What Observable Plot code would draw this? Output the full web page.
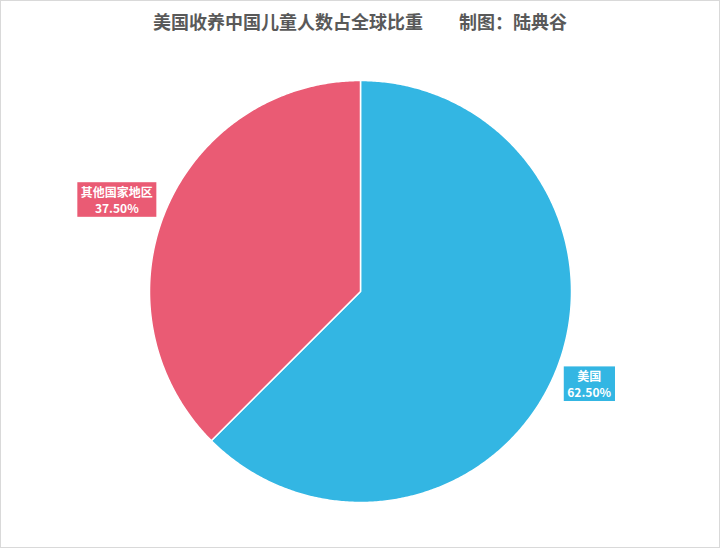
<!DOCTYPE html>
<html><head><meta charset="utf-8">
<script src="https://cdn.jsdelivr.net/npm/d3@7"></script>
<script src="https://cdn.jsdelivr.net/npm/@observablehq/plot@0.6"></script>
<style>
body{margin:0;background:#fff;}
#wrap{width:720px;height:548px;box-sizing:border-box;border:1px solid #d9d9d9;position:relative;font-family:"Noto Sans CJK SC","Noto Sans",sans-serif;overflow:hidden;}
#title{height:40px;line-height:40px;text-align:center;font-size:18px;font-weight:bold;color:#595959;white-space:pre;}
#chart svg{display:block;}
</style></head><body>
<div id="wrap"><div id="title"></div><div id="chart"></div></div>
<script>
const titleText = "美国收养中国儿童人数占全球比重";
const creditText = "制图：陆典谷";
const categories = ["美国", "其他国家地区"];
const shares = [62.5, 37.5];
const shareLabels = ["62.50%", "37.50%"];
const colors = ["#33B6E3", "#EA5B74"];

document.getElementById("title").textContent = titleText + "\u3000\u3000" + creditText;

const rows = categories.map((c, i) => ({category: c, share: shares[i], label: shareLabels[i]}));
const arcs = d3.pie().sort(null).value(d => d.share)(rows);

// slice outlines derived from the pie angles
const pts = [];
for (const a of arcs) {
  const c = a.data.category;
  pts.push({category: c, x: 0, y: 0});
  const n = Math.max(2, Math.ceil((a.endAngle - a.startAngle) / (Math.PI / 360)));
  for (let k = 0; k <= n; k++) {
    const t = a.startAngle + (a.endAngle - a.startAngle) * k / n;
    pts.push({category: c, x: Math.sin(t), y: Math.cos(t)});
  }
  pts.push({category: c, x: 0, y: 0});
}

const labelRadius = {"美国": 1.173, "其他国家地区": 1.232};
const labelShift = {"美国": [0, -2], "其他国家地区": [-3.5, 8]};
const labels = arcs.map(a => {
  const m = (a.startAngle + a.endAngle) / 2;
  const r = labelRadius[a.data.category];
  return {category: a.data.category, x: Math.sin(m) * r, y: Math.cos(m) * r, text: a.data.category + "\n" + a.data.label};
});

const R = 211, cx = 359, cy = 250;
const textMarks = labels.map(l => Plot.text([l], {
  x: "x", y: "y", text: "text", fill: "white", fontSize: 12, fontWeight: "bold",
  lineHeight: 1.3, className: "pielabel", dx: labelShift[l.category][0], dy: labelShift[l.category][1]
}));

const chart = Plot.plot({
  width: 718, height: 506,
  x: {domain: [-1, 1], range: [cx - R, cx + R], axis: null},
  y: {domain: [-1, 1], range: [cy + R, cy - R], axis: null},
  color: {domain: categories, range: colors},
  style: {fontFamily: '"Noto Sans CJK SC","Noto Sans",sans-serif', background: "white"},
  marks: [
    Plot.line(pts, {x: "x", y: "y", z: "category", fill: "category", stroke: "white", strokeWidth: 1.5, strokeLinejoin: "round"}),
    ...textMarks
  ]
});
document.getElementById("chart").appendChild(chart);

// label background boxes
const colorOf = Object.fromEntries(categories.map((c, i) => [c, colors[i]]));
d3.select(chart).selectAll("g.pielabel").each(function(_, i) {
  const g = this;
  const txt = g.querySelector("text");
  const bb = txt.getBBox();
  const cat = labels[i].category;
  const padX = 3.5, padY = 1;
  const rect = document.createElementNS("http://www.w3.org/2000/svg", "rect");
  rect.setAttribute("x", bb.x - padX);
  rect.setAttribute("y", bb.y - padY);
  rect.setAttribute("width", bb.width + 2 * padX);
  rect.setAttribute("height", bb.height + 2 * padY);
  rect.setAttribute("fill", colorOf[cat]);
  const tr = txt.getAttribute("transform");
  if (tr) rect.setAttribute("transform", tr);
  g.insertBefore(rect, txt);
});
</script>
</body></html>
